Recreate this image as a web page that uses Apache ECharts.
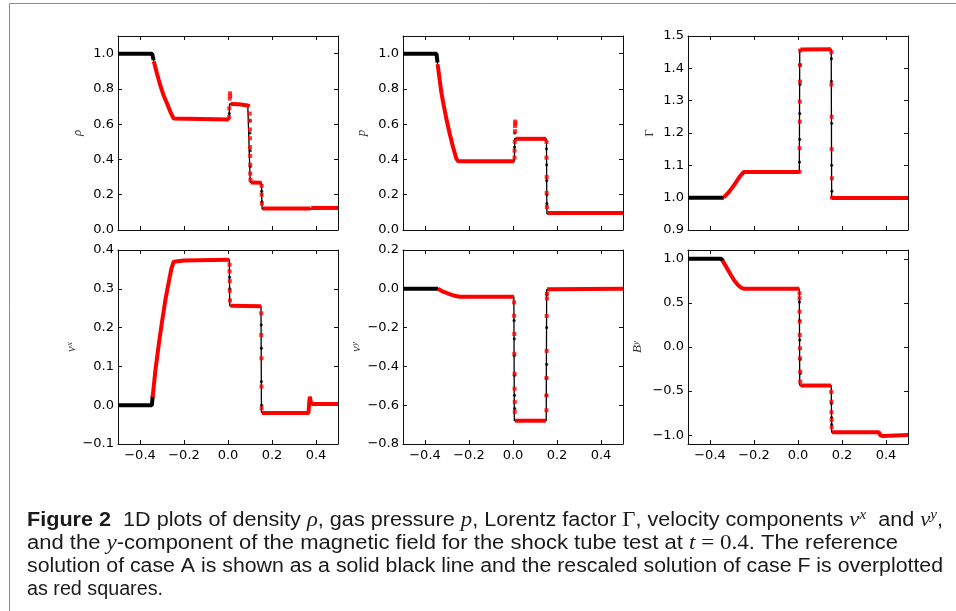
<!DOCTYPE html>
<html><head><meta charset="utf-8">
<script src="https://cdn.jsdelivr.net/npm/echarts@6/dist/echarts.min.js"></script>
<style>html,body{margin:0;padding:0;background:#fff}#c{width:956px;height:611px}</style>
</head><body><div id="c"></div><script>
// ---------------- DATA ----------------
const xTicks = [-0.4, -0.2, 0.0, 0.2, 0.4];

// density rho
const rhoTicks = [0.0, 0.2, 0.4, 0.6, 0.8, 1.0];
const rhoBand = [[-0.5,1.0],[-0.345,1.0],[-0.338,0.963]];
const rhoRef = [[-0.5,1.0],[-0.345,1.0],[-0.338,0.963],[-0.323,0.887],[-0.308,0.821],[-0.293,0.764],[-0.277,0.717],[-0.262,0.67],[-0.247,0.632],[-0.24,0.626],[0.005,0.626],[0.007,0.715],[0.05,0.713],[0.09,0.706],[0.099,0.70],[0.101,0.27],[0.152,0.268],[0.155,0.119],[0.378,0.119],[0.382,0.127],[0.5,0.127]];
const rhoRefDots = [[0.006,0.66],[0.100,0.62],[0.100,0.55],[0.101,0.45],[0.101,0.36],[0.153,0.22],[0.154,0.16]];
const rhoF = [
  [[-0.337,0.955],[-0.323,0.887],[-0.308,0.821],[-0.293,0.764],[-0.277,0.717],[-0.262,0.67],[-0.247,0.632],[-0.24,0.627],[0.004,0.627]],
  [[0.012,0.715],[0.05,0.713],[0.09,0.706],[0.098,0.70]],
  [[0.103,0.27],[0.152,0.268]],
  [[0.157,0.122],[0.375,0.122]],
  [[0.378,0.125],[0.5,0.125]]
];
const rhoFSq = [[0.005,0.64],[0.006,0.69],[0.008,0.745],[0.009,0.775],[0.010,0.76],[0.099,0.66],[0.099,0.62],[0.100,0.57],[0.100,0.52],[0.100,0.47],[0.101,0.42],[0.101,0.37],[0.101,0.32],[0.102,0.285],[0.153,0.25],[0.153,0.20],[0.154,0.15]];

// pressure p
const pTicks = [0.0, 0.2, 0.4, 0.6, 0.8, 1.0];
const pBand = [[-0.5,1.0],[-0.348,1.0],[-0.343,0.95]];
const pRef = [[-0.5,1.0],[-0.348,1.0],[-0.341,0.925],[-0.333,0.849],[-0.326,0.783],[-0.318,0.727],[-0.303,0.632],[-0.288,0.547],[-0.273,0.472],[-0.258,0.406],[-0.25,0.391],[-0.24,0.39],[0.006,0.39],[0.008,0.52],[0.152,0.517],[0.154,0.092],[0.38,0.092],[0.383,0.097],[0.5,0.097]];
const pRefDots = [[0.007,0.47],[0.008,0.55],[0.152,0.46],[0.153,0.37],[0.153,0.28],[0.154,0.20],[0.154,0.15]];
const pF = [
  [[-0.343,0.94],[-0.341,0.925],[-0.333,0.849],[-0.326,0.783],[-0.318,0.727],[-0.303,0.632],[-0.288,0.547],[-0.273,0.472],[-0.258,0.406],[-0.25,0.391],[-0.24,0.39],[0.006,0.39]],
  [[0.012,0.517],[0.151,0.517]],
  [[0.155,0.097],[0.5,0.097]]
];
const pFSq = [[0.007,0.41],[0.007,0.45],[0.008,0.50],[0.009,0.56],[0.009,0.59],[0.010,0.615],[0.011,0.605],[0.152,0.50],[0.152,0.41],[0.153,0.30],[0.153,0.21],[0.154,0.13]];

// Lorentz factor Gamma
const gTicks = [0.9, 1.0, 1.1, 1.2, 1.3, 1.4, 1.5];
const gBand = [[-0.5,1.0],[-0.338,1.0]];
const gRef = [[-0.5,1.0],[-0.338,1.0],[-0.32,1.013],[-0.31,1.021],[-0.288,1.041],[-0.265,1.065],[-0.247,1.079],[-0.24,1.078],[0.006,1.079],[0.008,1.458],[0.151,1.459],[0.153,1.0],[0.5,1.0]];
const gRefDots = [[0.007,1.11],[0.008,1.18],[0.008,1.26],[0.009,1.35],[0.009,1.41],[0.152,1.43],[0.152,1.36],[0.153,1.23],[0.153,1.10],[0.154,1.02]];
const gF = [
  [[-0.338,1.0],[-0.32,1.013],[-0.31,1.021],[-0.288,1.041],[-0.265,1.065],[-0.247,1.079],[-0.24,1.078],[0.006,1.079]],
  [[0.011,1.458],[0.150,1.459]],
  [[0.155,0.999],[0.5,0.999]]
];
const gFSq = [[0.007,1.08],[0.007,1.153],[0.008,1.235],[0.008,1.297],[0.009,1.359],[0.009,1.41],[0.010,1.455],[0.152,1.45],[0.152,1.35],[0.153,1.25],[0.153,1.15],[0.154,1.06],[0.154,1.0]];

// velocity v^x
const vxTicks = [-0.1, 0.0, 0.1, 0.2, 0.3, 0.4];
const vxBand = [[-0.5,0.0],[-0.346,0.0],[-0.342,0.025]];
const vxRef = [[-0.5,0.0],[-0.346,0.0],[-0.34,0.035],[-0.33,0.09],[-0.315,0.155],[-0.30,0.215],[-0.285,0.27],[-0.27,0.315],[-0.258,0.35],[-0.247,0.37],[-0.2,0.373],[0.006,0.375],[0.008,0.256],[0.15,0.255],[0.152,-0.019],[0.367,-0.019],[0.37,0.02],[0.375,0.01],[0.38,0.004],[0.5,0.004]];
const vxRefDots = [[0.007,0.33],[0.008,0.30],[0.151,0.207],[0.152,0.147],[0.152,0.061],[0.153,0.0]];
const vxF = [
  [[-0.343,0.02],[-0.34,0.035],[-0.33,0.09],[-0.315,0.155],[-0.30,0.215],[-0.285,0.27],[-0.27,0.315],[-0.258,0.35],[-0.247,0.37],[-0.2,0.373],[0.006,0.375]],
  [[0.011,0.256],[0.15,0.255]],
  [[0.154,-0.02],[0.366,-0.02],[0.369,0.005],[0.372,0.022],[0.376,0.01],[0.382,0.003],[0.5,0.003]]
];
const vxFSq = [[0.007,0.362],[0.007,0.345],[0.008,0.32],[0.008,0.295],[0.009,0.27],[0.151,0.237],[0.151,0.181],[0.152,0.121],[0.152,0.048],[0.153,-0.008]];

// velocity v^y
const vyTicks = [-0.8, -0.6, -0.4, -0.2, 0.0, 0.2];
const vyBand = [[-0.5,0.0],[-0.341,0.0]];
const vyRef = [[-0.5,0.0],[-0.341,0.0],[-0.318,-0.015],[-0.288,-0.027],[-0.265,-0.036],[-0.242,-0.041],[0.004,-0.041],[0.006,-0.68],[0.151,-0.68],[0.153,-0.004],[0.375,-0.004],[0.38,0.004],[0.5,0.002]];
const vyRefDots = [[0.005,-0.164],[0.006,-0.258],[0.006,-0.344],[0.007,-0.446],[0.007,-0.549],[0.008,-0.617],[0.152,-0.549],[0.152,-0.46],[0.153,-0.39],[0.153,-0.20],[0.154,-0.03]];
const vyF = [
  [[-0.341,0.0],[-0.318,-0.015],[-0.288,-0.027],[-0.265,-0.036],[-0.242,-0.041],[0.004,-0.041]],
  [[0.009,-0.68],[0.149,-0.68]],
  [[0.155,-0.002],[0.5,0.0]]
];
const vyFSq = [[0.005,-0.07],[0.005,-0.139],[0.006,-0.233],[0.006,-0.335],[0.007,-0.438],[0.007,-0.515],[0.008,-0.583],[0.008,-0.634],[0.152,-0.626],[0.152,-0.55],[0.152,-0.46],[0.153,-0.32],[0.153,-0.14],[0.154,-0.05],[0.154,-0.025]];

// magnetic field B^y
const byTicks = [-1.0, -0.5, 0.0, 0.5, 1.0];
const byBand = [[-0.5,1.0],[-0.348,1.0],[-0.34,0.97]];
const byRef = [[-0.5,1.0],[-0.348,1.0],[-0.333,0.937],[-0.318,0.873],[-0.303,0.808],[-0.288,0.748],[-0.273,0.703],[-0.258,0.672],[-0.247,0.661],[-0.24,0.66],[0.006,0.66],[0.008,-0.435],[0.151,-0.437],[0.153,-0.967],[0.368,-0.967],[0.375,-1.005],[0.38,-1.016],[0.39,-1.0],[0.5,-0.998]];
const byRefDots = [[0.007,0.51],[0.007,0.30],[0.008,0.08],[0.009,-0.14],[0.010,-0.30],[0.152,-0.64],[0.153,-0.80],[0.153,-0.88]];
const byF = [
  [[-0.343,0.98],[-0.333,0.937],[-0.318,0.873],[-0.303,0.808],[-0.288,0.748],[-0.273,0.703],[-0.258,0.672],[-0.247,0.661],[-0.24,0.66],[0.006,0.66]],
  [[0.011,-0.437],[0.150,-0.437]],
  [[0.155,-0.967],[0.368,-0.967],[0.375,-1.005],[0.38,-1.016],[0.385,-1.01],[0.39,-1.0],[0.5,-0.998]]
];
const byFSq = [[0.007,0.61],[0.007,0.552],[0.007,0.401],[0.008,0.288],[0.008,0.136],[0.009,-0.015],[0.009,-0.128],[0.010,-0.279],[0.010,-0.393],[0.151,-0.51],[0.152,-0.62],[0.152,-0.74],[0.153,-0.83],[0.153,-0.91]];

// ---------------- LAYOUT / STYLE ----------------
const panels = [
  {name:'{i|ρ}', gap:34, min:0, max:1.1, ticks:rhoTicks, band:rhoBand, ref:rhoRef, dots:rhoRefDots, f:rhoF, sq:rhoFSq, left:118, top:36, labelsX:false},
  {name:'{i|p}', gap:35, min:0, max:1.1, ticks:pTicks, band:pBand, ref:pRef, dots:pRefDots, f:pF, sq:pFSq, left:403, top:36, labelsX:false},
  {name:'{r|Γ}', gap:32, min:0.9, max:1.5, ticks:gTicks, band:gBand, ref:gRef, dots:gRefDots, f:gF, sq:gFSq, left:688, top:36, labelsX:false},
  {name:'{i|v}{s|x}', gap:39, min:-0.1, max:0.4, ticks:vxTicks, band:vxBand, ref:vxRef, dots:vxRefDots, f:vxF, sq:vxFSq, left:118, top:250, labelsX:true},
  {name:'{i|v}{s|y}', gap:40, min:-0.8, max:0.2, ticks:vyTicks, band:vyBand, ref:vyRef, dots:vyRefDots, f:vyF, sq:vyFSq, left:403, top:250, labelsX:true},
  {name:'{i|B}{s|y}', gap:44, min:-1.1, max:1.1, ticks:byTicks, band:byBand, ref:byRef, dots:byRefDots, f:byF, sq:byFSq, left:688, top:250, labelsX:true}
];

const fmt = v => v.toFixed(1).replace('-', '\u2212');
const AX = '#111';
const labelFont = {fontFamily:'DejaVu Sans', fontSize:13, color:'#000'};
const nameRich = {
  i:{fontFamily:'Liberation Serif', fontStyle:'italic', fontSize:13, color:'#333'},
  r:{fontFamily:'Liberation Serif', fontSize:13, color:'#333'},
  s:{fontFamily:'Liberation Serif', fontStyle:'italic', fontSize:9, color:'#333', verticalAlign:'top'}
};

const grids = [], xAxes = [], yAxes = [], series = [];
panels.forEach((P, i) => {
  grids.push({left:P.left, top:P.top, width:220, height:194});
  const tick = {show:true, inside:true, length:4, lineStyle:{color:AX, width:1}};
  const line = {show:true, onZero:false, lineStyle:{color:AX, width:1}};
  xAxes.push({type:'value', gridIndex:i, position:'bottom', min:-0.5, max:0.5,
    axisLine:line, splitLine:{show:false},
    axisTick:Object.assign({customValues:xTicks}, tick),
    axisLabel:Object.assign({show:P.labelsX, customValues:xTicks, formatter:fmt, margin:5}, labelFont)});
  xAxes.push({type:'value', gridIndex:i, position:'top', min:-0.5, max:0.5,
    axisLine:line, splitLine:{show:false},
    axisTick:Object.assign({customValues:xTicks}, tick), axisLabel:{show:false}});
  yAxes.push({type:'value', gridIndex:i, position:'left', min:P.min, max:P.max,
    name:P.name, nameLocation:'middle', nameRotate:90, nameGap:P.gap,
    nameTextStyle:{rich:nameRich},
    axisLine:line, splitLine:{show:false},
    axisTick:Object.assign({customValues:P.ticks}, tick),
    axisLabel:Object.assign({customValues:P.ticks, formatter:fmt, margin:4, showMinLabel:true, showMaxLabel:true}, labelFont)});
  yAxes.push({type:'value', gridIndex:i, position:'right', min:P.min, max:P.max,
    axisLine:line, splitLine:{show:false},
    axisTick:Object.assign({customValues:P.ticks}, tick), axisLabel:{show:false}});
  const ax = {xAxisIndex:2*i, yAxisIndex:2*i, silent:true, animation:false};
  series.push(Object.assign({type:'line', data:P.band, symbol:'none', lineStyle:{color:'#000', width:4}, z:2}, ax));
  series.push(Object.assign({type:'line', data:P.ref, symbol:'none', lineStyle:{color:'#000', width:1.3}, z:3}, ax));
  series.push(Object.assign({type:'scatter', data:P.dots, symbol:'circle', symbolSize:3.2, itemStyle:{color:'#000'}, z:4}, ax));
  P.f.forEach(seg => series.push(Object.assign({type:'line', data:seg, symbol:'none', lineStyle:{color:'#f00', width:4}, z:5}, ax)));
  series.push(Object.assign({type:'scatter', data:P.sq, symbol:'rect', symbolSize:4, itemStyle:{color:'#f00'}, z:6}, ax));
});

// ---------------- CAPTION ----------------
const capFonts = {
  b:{fontFamily:'Liberation Sans', fontWeight:'bold', fontSize:20},
  n:{fontFamily:'Liberation Sans', fontSize:20},
  m:{fontFamily:'Liberation Serif', fontStyle:'italic', fontSize:21},
  r:{fontFamily:'Liberation Serif', fontSize:21},
  s:{fontFamily:'Liberation Serif', fontStyle:'italic', fontSize:14, verticalAlign:'top'}
};
const captionLines = [
  [['b','Figure 2'],['n','  1D plots of density '],['m','ρ'],['n',', gas pressure '],['m','p'],['n',', Lorentz factor '],['r','Γ'],['n',', velocity components '],['m','v'],['s','x'],['n','  and '],['m','v'],['s','y'],['n',',']],
  [['n','and the '],['m','y'],['n','-component of the magnetic field for the shock tube test at '],['m','t'],['r',' = 0.4'],['n','. The reference']],
  [['n','solution of case A is shown as a solid black line and the rescaled solution of case F is overplotted']],
  [['n','as red squares.']]
];
const captionWidths = [916, 871, 916, 136];
const ctx = document.createElement('canvas').getContext('2d');
function tokW(k, t) {
  const f = capFonts[k];
  ctx.font = (f.fontStyle||'normal') + ' ' + (f.fontWeight||'normal') + ' ' + f.fontSize + 'px "' + f.fontFamily + '"';
  return ctx.measureText(t).width;
}
const lineW = toks => toks.reduce((a, t) => a + tokW(t[0], t[1]), 0);
const rich = {};
Object.keys(capFonts).forEach(k => {
  rich[k] = Object.assign({fill:'#1a1a1a', lineHeight:24}, capFonts[k]);
});
rich.s.lineHeight = 14;
const capY = [520, 543.3, 566.7, 589];
const graphics = [{type:'rect', silent:true, shape:{x:9.5, y:3.5, width:980, height:640}, style:{fill:'none', stroke:'#7590b6', lineWidth:1}}];
captionLines.forEach((toks, j) => {
  graphics.push({type:'text', silent:true, x:27, y:capY[j], scaleX:captionWidths[j] / lineW(toks),
    style:{text: toks.map(t => '{' + t[0] + '|' + t[1] + '}').join(''), rich:rich, align:'left', verticalAlign:'middle', fill:'#1a1a1a'}});
});

const chart = echarts.init(document.getElementById('c'), null, {renderer:'canvas'});
chart.setOption({
  animation:false,
  backgroundColor:'#fff',
  grid:grids, xAxis:xAxes, yAxis:yAxes, series:series,
  graphic:graphics
});
</script></body></html>
